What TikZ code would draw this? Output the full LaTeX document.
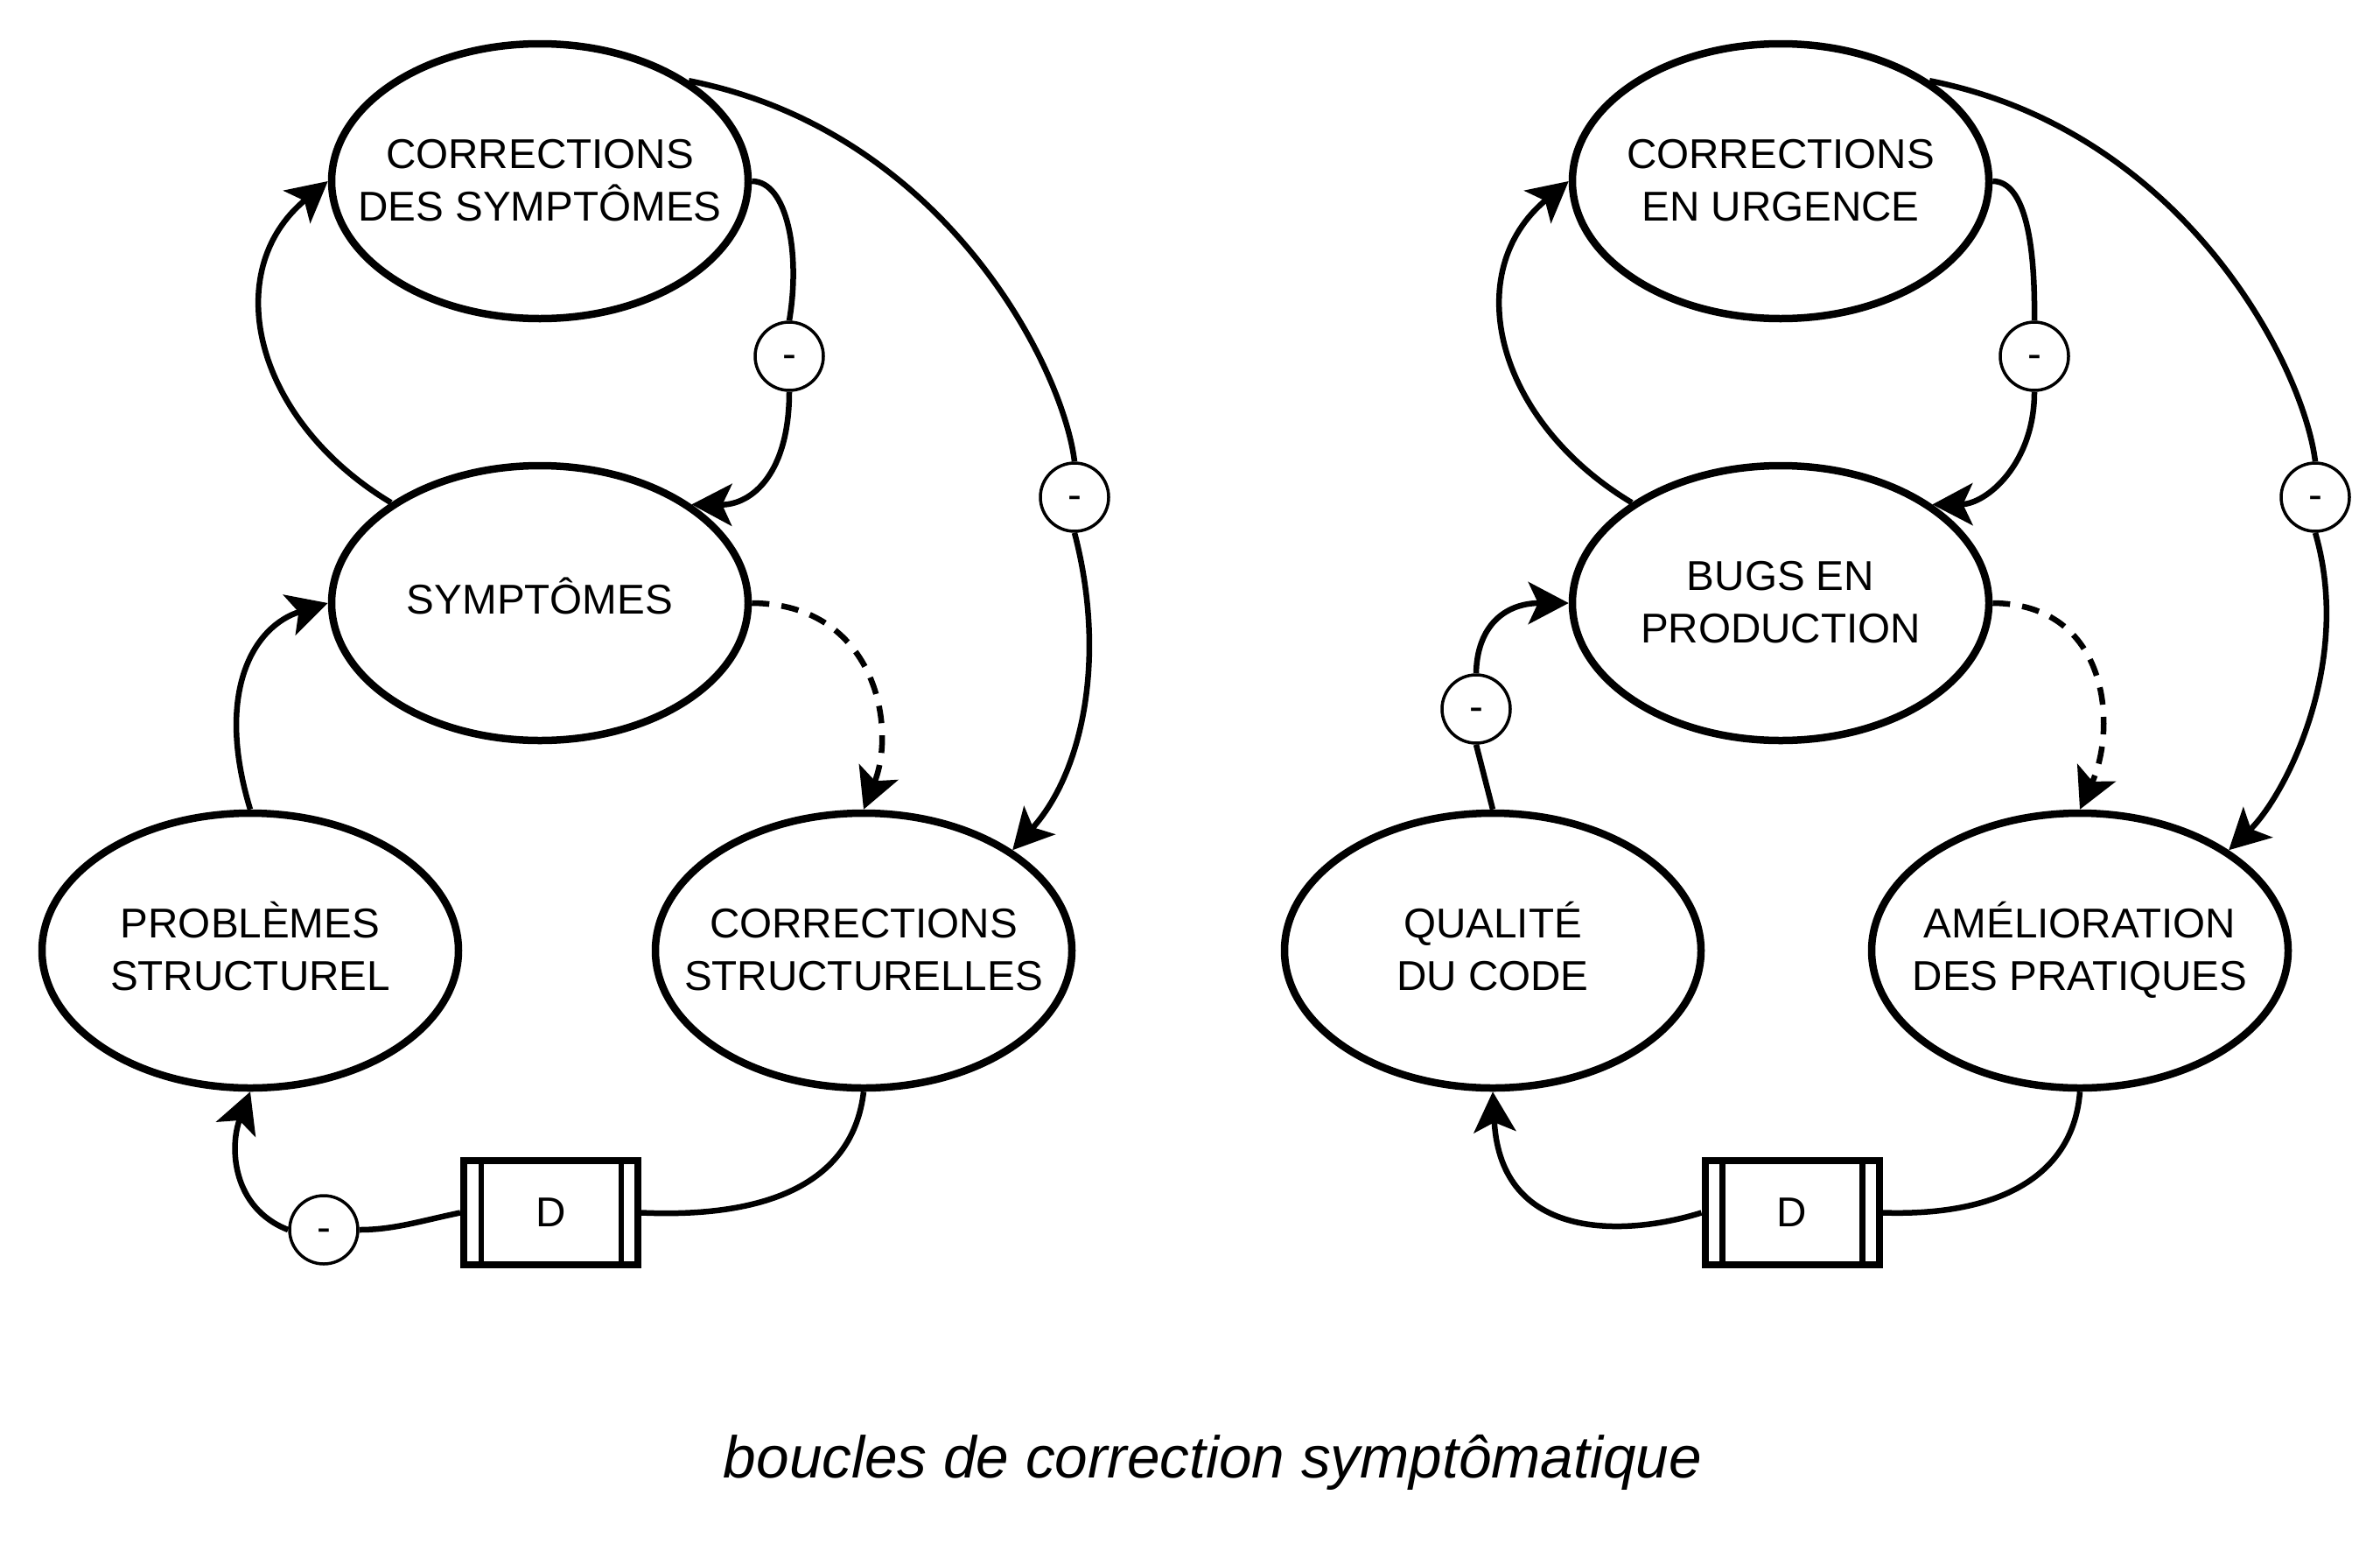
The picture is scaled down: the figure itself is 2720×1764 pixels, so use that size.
\documentclass[tikz,border=0pt]{standalone}
\usepackage{fontspec}
\setmainfont{Liberation Sans}
\usetikzlibrary{arrows.meta,shapes.geometric}
\newcommand\nodefont{\fontsize{47.6pt}{60pt}\selectfont}
\newcommand\twol[2]{\vbox{\hbox to 0pt{\hss#1\hss}\hbox to 0pt{\hss#2\hss}}}
\begin{document}
\begin{tikzpicture}[x=1pt,y=-1pt,
  blob/.style={ellipse, draw, line width=8.5pt, minimum width=476pt, minimum height=314pt, inner sep=-200pt, font=\nodefont, text height=90pt, text depth=0pt},
  oneline/.style={text height=24pt, text depth=0pt},
  sign/.style={circle, draw, line width=3.5pt, minimum size=78pt, inner sep=0pt, fill=white, font=\nodefont, text height=26.7pt, text depth=0pt},
  delay/.style={rectangle, draw, line width=8pt, minimum width=199pt, minimum height=119pt, inner sep=0pt, fill=white, font=\nodefont},
  wire/.style={line width=6.5pt},
  arr/.style={wire, -{Stealth[length=46pt,width=48pt,inset=11pt]}},
  broken/.style={dash pattern=on 20pt off 14pt},
  bar/.style={line width=6.7pt}
]
\useasboundingbox (0,0) rectangle (2720,1764);

% left loop
\node[blob] (cds) at (617,207) {\twol{CORRECTIONS}{DES SYMPTÔMES}};
\node[blob, oneline] (sym) at (617,689) {SYMPTÔMES};
\node[blob] (prob) at (286,1086) {\twol{PROBLÈMES}{STRUCTUREL}};
\node[blob] (cs) at (987,1086) {\twol{CORRECTIONS}{STRUCTURELLES}};
\node[delay] (dL) at (629.5,1385.5) {D};
\node[sign] (mL1) at (902,407) {-};
\node[sign] (mL2) at (1228,568) {-};
\node[sign] (mL3) at (370,1405) {-};

% right loop
\node[blob] (ceu) at (2035,207) {\twol{CORRECTIONS}{EN URGENCE}};
\node[blob] (bep) at (2035,689) {\twol{BUGS EN}{PRODUCTION}};
\node[blob] (qdc) at (1706,1086) {\twol{QUALITÉ}{DU CODE}};
\node[blob] (adp) at (2377,1086) {\twol{AMÉLIORATION}{DES PRATIQUES}};
\node[delay] (dR) at (2048,1385.5) {D};
\node[sign] (mR1) at (2325,407) {-};
\node[sign] (mR2) at (2646,568) {-};
\node[sign] (mR3) at (1687,810) {-};

\foreach \d in {dL,dR}{
  \draw[bar] ([xshift=24pt]\d.north west) -- ([xshift=24pt]\d.south west);
  \draw[bar] ([xshift=-23pt]\d.north east) -- ([xshift=-23pt]\d.south east);
}

% left connectors
\draw[wire] (cds.east) .. controls (900,207) and (915,290) .. (mL1.north);
\draw[arr] (mL1.south) .. controls (902,540) and (860,577) .. (sym.33);
\draw[arr] (sym.146) .. controls (290,480) and (250,310) .. (cds.west);
\draw[wire] (cds.34) .. controls (1080,150) and (1215,420) .. (mL2.north);
\draw[arr] (mL2.south) .. controls (1265,750) and (1238,882) .. (cs.34);
\draw[arr, broken] (sym.east) .. controls (1000,690) and (1025,830) .. (cs.north);
\draw[arr] (prob.north) .. controls (245,790) and (290,715) .. (sym.west);
\draw[wire] (cs.south) .. controls (975,1350) and (880,1392) .. (dL.east);
\draw[wire] (dL.west) .. controls (480,1395) and (450,1405) .. (mL3.east);
\draw[arr] (mL3.west) .. controls (265,1380) and (262,1310) .. (prob.south);

% right connectors
\draw[wire] (ceu.east) .. controls (2315,207) and (2326,280) .. (mR1.north);
\draw[arr] (mR1.south) .. controls (2325,530) and (2270,576) .. (bep.33);
\draw[arr] (bep.146) .. controls (1708,480) and (1668,310) .. (ceu.west);
\draw[wire] (ceu.34) .. controls (2498,150) and (2633,420) .. (mR2.north);
\draw[arr] (mR2.south) .. controls (2690,760) and (2610,911) .. (adp.34);
\draw[arr, broken] (bep.east) .. controls (2410,690) and (2420,830) .. (adp.north);
\draw[wire] (qdc.north) -- (mR3.south);
\draw[arr] (mR3.north) .. controls (1688,715) and (1720,689) .. (bep.west);
\draw[wire] (adp.south) .. controls (2370,1340) and (2290,1390) .. (dR.east);
\draw[arr] (dR.west) .. controls (1860,1412) and (1715,1420) .. (qdc.south);

% caption
\node[font=\fontsize{67.5pt}{80pt}\selectfont\itshape, anchor=base] (cap) at (1386,1688) {boucles de correction symptômatique};
\end{tikzpicture}
\end{document}
